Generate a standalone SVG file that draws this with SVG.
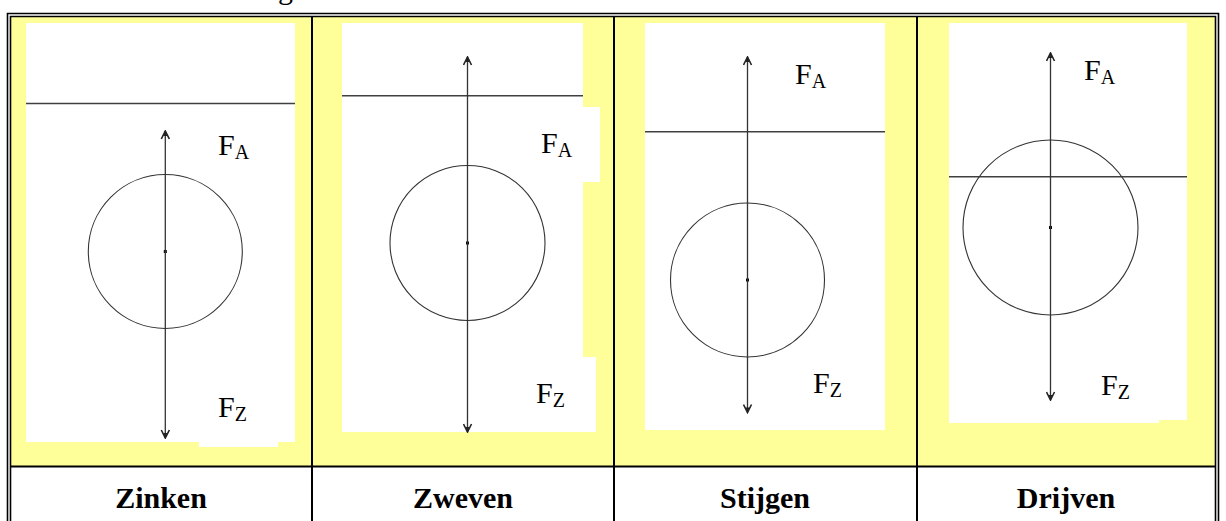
<svg xmlns="http://www.w3.org/2000/svg" width="1226" height="521" viewBox="0 0 1226 521">
<style>
.bg{fill:#FFFF99}
.wh{fill:#FFFFFF}
.bd{stroke:#000;stroke-width:1.6;fill:none}
.sep{stroke:#000;stroke-width:2;fill:none}
.water{stroke:#404040;stroke-width:1.4}
.ball{fill:none;stroke:#333;stroke-width:1.1}
.dot{fill:#000}
.force{stroke:#333;stroke-width:1.3;fill:none;marker-start:url(#ah);marker-end:url(#ah)}
.f{font-family:"Liberation Serif","Times New Roman",serif;font-size:30px;fill:#000}
.sub{font-size:20px}
.lbl{font-family:"Liberation Serif","Times New Roman",serif;font-size:30px;font-weight:bold;fill:#000;text-anchor:middle}
</style>
<defs>
<marker id="ah" viewBox="0 0 10 10" refX="9" refY="5" markerWidth="10" markerHeight="10" markerUnits="userSpaceOnUse" orient="auto-start-reverse">
<path d="M1,1 L9,5 L1,9" fill="none" stroke="#222" stroke-width="1.6"/>
<path d="M4,3 L9,5 L4,7 Z" fill="#222"/>
</marker>
</defs>
<rect width="1226" height="521" fill="#fff"/>
<text class="f" x="278" y="-1">g</text>

<g id="table">
<rect class="bg" x="11" y="17" width="301" height="449"/>
<rect class="bg" x="313" y="17" width="301" height="449"/>
<rect class="bg" x="615" y="17" width="302" height="449"/>
<rect class="bg" x="918" y="17" width="297" height="449"/>
<path class="bd" d="M7.5,521 V13.5 H1218.5 V521"/>
<path class="bd" d="M10.5,521 V16.5 H1215.5 V521"/>
<path class="sep" d="M312,16.5 V521 M614,16.5 V521 M917,16.5 V521 M10.5,466.5 H1215.5"/>
</g>

<g id="zinken">
<rect class="wh" x="26" y="23" width="269" height="419"/>
<rect class="wh" x="199" y="440" width="79" height="7"/>
<line class="water" x1="26" y1="103.5" x2="295" y2="103.5"/>
<circle class="ball" cx="165.3" cy="251.5" r="77"/>
<rect class="dot" x="163.8" y="250" width="3" height="3"/>
<text class="f" x="218" y="155">F<tspan class="sub" dy="4">A</tspan></text>
<text class="f" x="218" y="417">F<tspan class="sub" dy="4">Z</tspan></text>
<text class="lbl" x="161" y="508">Zinken</text>
</g>

<g id="zweven">
<rect class="wh" x="342" y="23" width="241" height="409"/>
<rect class="wh" x="582" y="107" width="18" height="75"/>
<rect class="wh" x="582" y="357" width="14" height="75"/>
<line class="water" x1="342" y1="95.7" x2="583" y2="95.7"/>
<circle class="ball" cx="467.5" cy="243" r="77.5"/>
<rect class="dot" x="466" y="241.5" width="3" height="3"/>
<text class="f" x="541" y="153">F<tspan class="sub" dy="4">A</tspan></text>
<text class="f" x="536" y="403">F<tspan class="sub" dy="4">Z</tspan></text>
<text class="lbl" x="463" y="508">Zweven</text>
</g>

<g id="stijgen">
<rect class="wh" x="645" y="23" width="240" height="407"/>
<line class="water" x1="645" y1="131.7" x2="885" y2="131.7"/>
<circle class="ball" cx="747.5" cy="280" r="77"/>
<rect class="dot" x="746" y="278.5" width="3" height="3"/>
<text class="f" x="795" y="84">F<tspan class="sub" dy="4">A</tspan></text>
<text class="f" x="813" y="393">F<tspan class="sub" dy="4">Z</tspan></text>
<text class="lbl" x="765" y="508">Stijgen</text>
</g>

<g id="drijven">
<rect class="wh" x="949" y="23" width="238" height="397"/>
<rect class="wh" x="949" y="418" width="210" height="5"/>
<line class="water" x1="949" y1="176.7" x2="1187" y2="176.7"/>
<circle class="ball" cx="1050.5" cy="227.5" r="87.5"/>
<rect class="dot" x="1049" y="226" width="3" height="3"/>
<text class="f" x="1084" y="80">F<tspan class="sub" dy="4">A</tspan></text>
<text class="f" x="1101" y="395">F<tspan class="sub" dy="4">Z</tspan></text>
<text class="lbl" x="1066" y="508">Drijven</text>
</g>

<g id="connectors">
<line class="force" x1="165.3" y1="131" x2="165.3" y2="438"/>
<line class="force" x1="467.5" y1="57" x2="467.5" y2="432"/>
<line class="force" x1="747.5" y1="57" x2="747.5" y2="412.5"/>
<line class="force" x1="1050.5" y1="53" x2="1050.5" y2="400"/>
</g>
</svg>
